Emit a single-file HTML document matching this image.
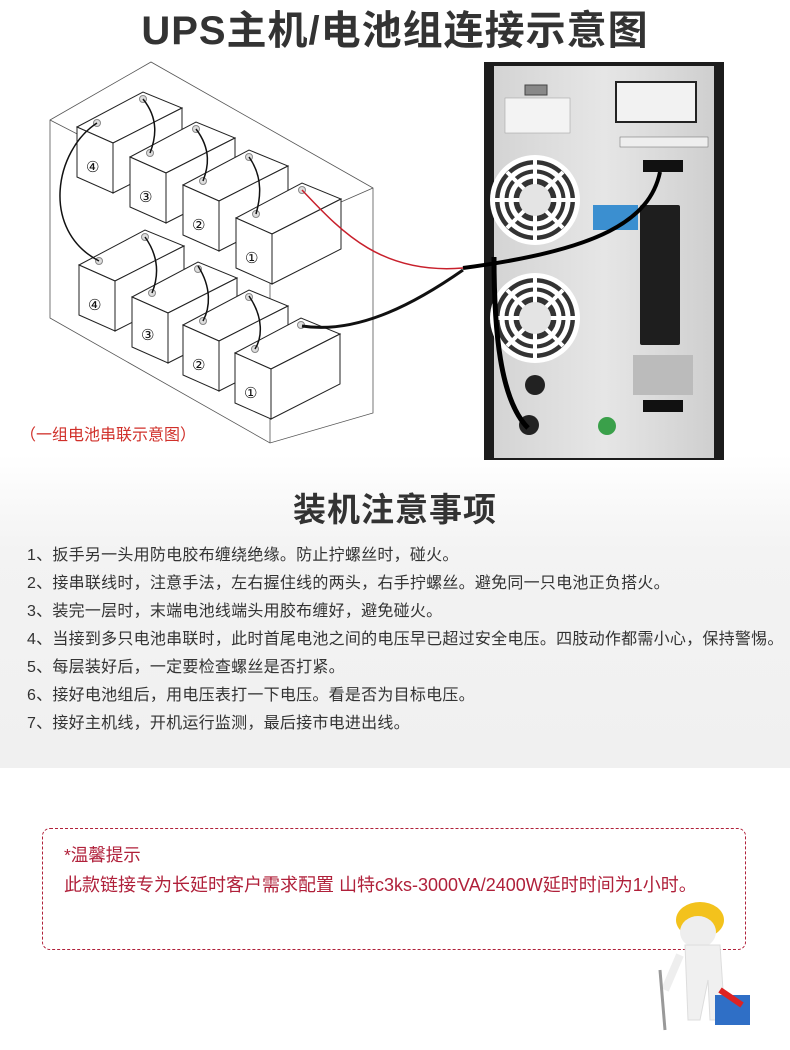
<!DOCTYPE html>
<html><head><meta charset="utf-8">
<style>
body{margin:0;width:790px;height:1050px;position:relative;overflow:hidden;background:#fff;font-family:"Liberation Sans","Noto Sans CJK SC",sans-serif;}
.t{position:absolute;white-space:nowrap;}
#gray{position:absolute;left:0;top:455px;width:790px;height:313px;background:linear-gradient(#fff 0%,#f3f3f3 30%,#f0f0f0 100%);}
.li{position:absolute;left:27px;font-size:16px;color:#333;white-space:nowrap;letter-spacing:0.25px;}
</style></head><body>
<div id="gray"></div>
<div class="t" style="left:0;width:790px;text-align:center;top:-2px;font-size:40px;font-weight:bold;color:#333;letter-spacing:1px;">UPS主机/电池组连接示意图</div>

<svg style="position:absolute;left:0;top:0" width="790" height="470">
<defs>
<linearGradient id="pan" x1="0" x2="1"><stop offset="0" stop-color="#d4d4d4"/><stop offset="0.5" stop-color="#e6e6e6"/><stop offset="1" stop-color="#cfcfcf"/></linearGradient>
<g id="bat" stroke="#222" stroke-width="1" fill="#fff">
<path d="M0 0 L66 -35 L105 -19 L36 16 Z"/>
<path d="M0 0 L36 16 L36 66 L0 50 Z"/>
<path d="M36 16 L105 -19 L105 31 L36 66 Z"/>
<circle cx="20" cy="-4" r="3.5" fill="#ddd" stroke="#888"/>
<circle cx="66" cy="-28" r="3.5" fill="#ddd" stroke="#888"/>
</g>
<g id="fan">
<circle r="45" fill="#fff"/><circle r="40" fill="#333"/>
<circle r="33" fill="none" stroke="#fff" stroke-width="5"/>
<circle r="24" fill="none" stroke="#fff" stroke-width="5"/>
<path d="M-40 0 H40 M0 -40 V40 M-28 -28 L28 28 M-28 28 L28 -28" stroke="#fff" stroke-width="4"/>
<circle r="16" fill="#e4e4e4"/>
</g>
</defs>
<g stroke="#555" stroke-width="0.8" fill="none">
<path d="M50 120 L151 62 L373 188 L373 413 L270 443 L50 318 Z"/>
<path d="M50 120 L270 233 L373 188"/>
<path d="M270 233 L270 443"/>
</g>
<use href="#bat" x="77" y="127"/>
<use href="#bat" x="130" y="157"/>
<use href="#bat" x="183" y="185"/>
<use href="#bat" x="236" y="218"/>
<use href="#bat" x="79" y="265"/>
<use href="#bat" x="132" y="297"/>
<use href="#bat" x="183" y="325"/>
<use href="#bat" x="235" y="353"/>
<g font-size="15" fill="#111" font-family="DejaVu Sans,sans-serif">
<text x="86" y="172">④</text><text x="139" y="202">③</text><text x="192" y="230">②</text><text x="245" y="263">①</text>
<text x="88" y="310">④</text><text x="141" y="340">③</text><text x="192" y="370">②</text><text x="244" y="398">①</text>
</g>
<g stroke="#111" stroke-width="1.5" fill="none">
<path d="M143 99 C160 120 155 140 150 153"/>
<path d="M196 129 C212 150 208 168 203 181"/>
<path d="M249 157 C264 178 260 200 256 214"/>
<path d="M145 237 C160 258 158 278 152 293"/>
<path d="M198 266 C212 288 210 308 203 321"/>
<path d="M249 296 C264 318 262 338 255 349"/>
<path d="M97 123 C55 150 40 230 99 261"/>
</g>
<path d="M302 190 C340 230 380 275 463 268" stroke="#c8202c" stroke-width="1.5" fill="none"/>
<path d="M302 326 C360 335 420 300 463 270" stroke="#111" stroke-width="3" fill="none"/>
<rect x="484" y="62" width="240" height="398" fill="#1c1c1c"/>
<rect x="494" y="66" width="220" height="392" fill="url(#pan)"/>
<rect x="616" y="82" width="80" height="40" fill="#f2f2f2" stroke="#222" stroke-width="2"/>
<rect x="505" y="98" width="65" height="35" fill="#f3f3f3" stroke="#999" stroke-width="0.5"/>
<rect x="525" y="85" width="22" height="10" fill="#888" stroke="#444"/>
<rect x="620" y="137" width="88" height="10" fill="#eee" stroke="#666" stroke-width="0.5"/>
<use href="#fan" x="535" y="200"/>
<use href="#fan" x="535" y="318"/>
<rect x="593" y="205" width="45" height="25" fill="#3b8fd0"/>
<rect x="643" y="160" width="40" height="12" fill="#111"/>
<rect x="640" y="205" width="40" height="140" rx="2" fill="#1e1e1e"/>
<rect x="633" y="355" width="60" height="40" fill="#bbb"/>
<rect x="643" y="400" width="40" height="12" fill="#111"/>
<circle cx="535" cy="385" r="10" fill="#222"/>
<circle cx="529" cy="425" r="10" fill="#222"/>
<circle cx="607" cy="426" r="9" fill="#3aa04a"/>
<path d="M660 172 C650 220 600 250 463 268" stroke="#000" stroke-width="4" fill="none"/>
<path d="M494 257 C494 330 500 400 528 428" stroke="#000" stroke-width="5" fill="none"/>
</svg>

<div class="t" style="left:20px;top:421px;font-size:16px;color:#d0302a;">（一组电池串联示意图）</div>

<div class="t" style="left:0;width:790px;text-align:center;top:483px;font-size:33px;font-weight:bold;color:#333;letter-spacing:1px;">装机注意事项</div>
<div class="li" style="top:541px">1、扳手另一头用防电胶布缠绕绝缘。防止拧螺丝时，碰火。</div>
<div class="li" style="top:569px">2、接串联线时，注意手法，左右握住线的两头，右手拧螺丝。避免同一只电池正负搭火。</div>
<div class="li" style="top:597px">3、装完一层时，末端电池线端头用胶布缠好，避免碰火。</div>
<div class="li" style="top:625px">4、当接到多只电池串联时，此时首尾电池之间的电压早已超过安全电压。四肢动作都需小心，保持警惕。</div>
<div class="li" style="top:653px">5、每层装好后，一定要检查螺丝是否打紧。</div>
<div class="li" style="top:681px">6、接好电池组后，用电压表打一下电压。看是否为目标电压。</div>
<div class="li" style="top:709px">7、接好主机线，开机运行监测，最后接市电进出线。</div>

<div style="position:absolute;left:42px;top:828px;width:702px;height:120px;border:1px dashed #b0203a;border-radius:8px;"></div>
<div class="t" style="left:64px;top:842px;font-size:17.5px;color:#b0203a;">*温馨提示</div>
<div class="t" style="left:64px;top:871px;font-size:18px;color:#b0203a;">此款链接专为长延时客户需求配置 山特c3ks-3000VA/2400W延时时间为1小时。</div>

<svg style="position:absolute;left:650px;top:880px" width="140" height="170">
<ellipse cx="50" cy="40" rx="24" ry="18" fill="#f3c21c"/>
<ellipse cx="48" cy="52" rx="18" ry="16" fill="#eee"/>
<path d="M35 65 L70 65 L75 140 L60 140 L58 100 L50 140 L38 140 Z" fill="#f0f0f0" stroke="#ddd"/>
<path d="M30 75 L15 110" stroke="#eee" stroke-width="8"/>
<path d="M10 90 L15 150" stroke="#999" stroke-width="3"/>
<rect x="65" y="115" width="35" height="30" fill="#2f6fc6"/>
<path d="M70 110 L92 125" stroke="#d22" stroke-width="6"/>
</svg>
</body></html>
